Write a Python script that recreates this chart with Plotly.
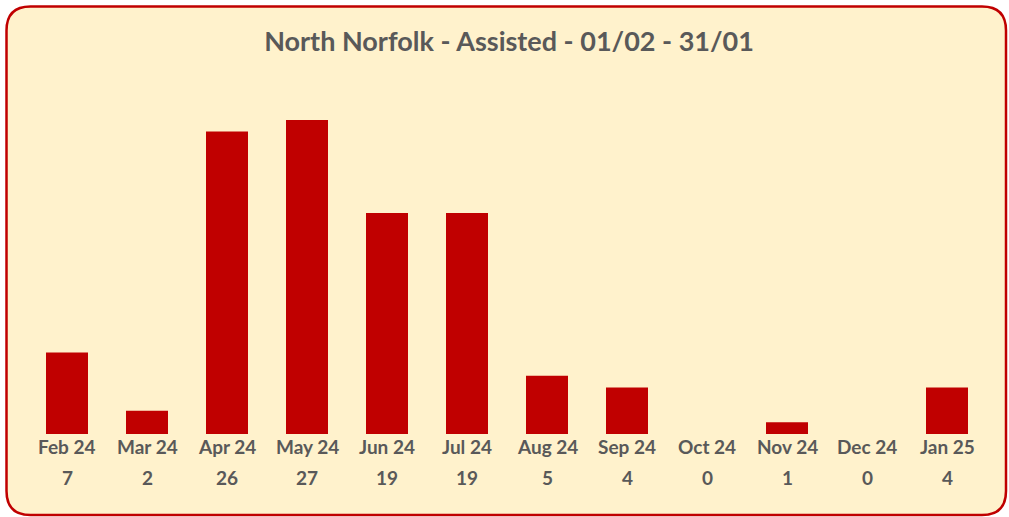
import plotly.graph_objects as go

months = ['Feb 24', 'Mar 24', 'Apr 24', 'May 24', 'Jun 24', 'Jul 24',
          'Aug 24', 'Sep 24', 'Oct 24', 'Nov 24', 'Dec 24', 'Jan 25']
assisted = [7, 2, 26, 27, 19, 19, 5, 4, 0, 1, 0, 4]

W, H = 1009, 517
L, R, T, B = 27, 22, 85, 83
pw, ph = W - L - R, H - T - B
FONT = 'Lato'
GREY = '#595959'
RED = '#C00000'


def px(x):
    return (x - L) / pw


def py(y):
    return (H - B - y) / ph


# rounded card behind the chart
x0, y0, x1, y1, rad = 6.5, 6.5, 1006, 515, 24
path = (
    f'M {px(x0 + rad)},{py(y0)} L {px(x1 - rad)},{py(y0)} '
    f'Q {px(x1)},{py(y0)} {px(x1)},{py(y0 + rad)} '
    f'L {px(x1)},{py(y1 - rad)} Q {px(x1)},{py(y1)} {px(x1 - rad)},{py(y1)} '
    f'L {px(x0 + rad)},{py(y1)} Q {px(x0)},{py(y1)} {px(x0)},{py(y1 - rad)} '
    f'L {px(x0)},{py(y0 + rad)} Q {px(x0)},{py(y0)} {px(x0 + rad)},{py(y0)} Z'
)

fig = go.Figure(go.Bar(
    x=months,
    y=assisted,
    marker=dict(color=RED, line=dict(width=0)),
    hovertemplate='%{x}: %{y}<extra></extra>',
))

# month row and value row under the bars
for m, v in zip(months, assisted):
    fig.add_annotation(
        x=m, y=py(446), xref='x', yref='paper',
        text=f'<b>{m}</b>', showarrow=False,
        font=dict(family=FONT, size=19, color=GREY),
        yanchor='middle',
    )
    fig.add_annotation(
        x=m, y=py(477), xref='x', yref='paper',
        text=f'<b>{v}</b>', showarrow=False,
        font=dict(family=FONT, size=19, color=GREY),
        yanchor='middle',
    )

fig.update_layout(
    width=W, height=H,
    margin=dict(l=L, r=R, t=T, b=B),
    paper_bgcolor='white',
    plot_bgcolor='rgba(0,0,0,0)',
    bargap=0.475,
    showlegend=False,
    title=dict(
        text='<b>North Norfolk - Assisted - 01/02 - 31/01</b>',
        x=509 / W, xanchor='center', xref='container',
        y=1 - 42 / H, yanchor='middle', yref='container',
        font=dict(family=FONT, size=27, color=GREY),
    ),
    xaxis=dict(
        showgrid=False, showline=False, zeroline=False,
        ticks='', showticklabels=False,
    ),
    yaxis=dict(
        range=[0, 30], visible=False, showgrid=False, zeroline=False,
    ),
    shapes=[dict(
        type='path', path=path, xref='paper', yref='paper',
        fillcolor='#FFF2CC', line=dict(color=RED, width=2.5), layer='below',
    )],
)

fig.write_html(
    'out.html',
    config={'displayModeBar': False},
    post_script="document.body.style.margin = '0';",
)
